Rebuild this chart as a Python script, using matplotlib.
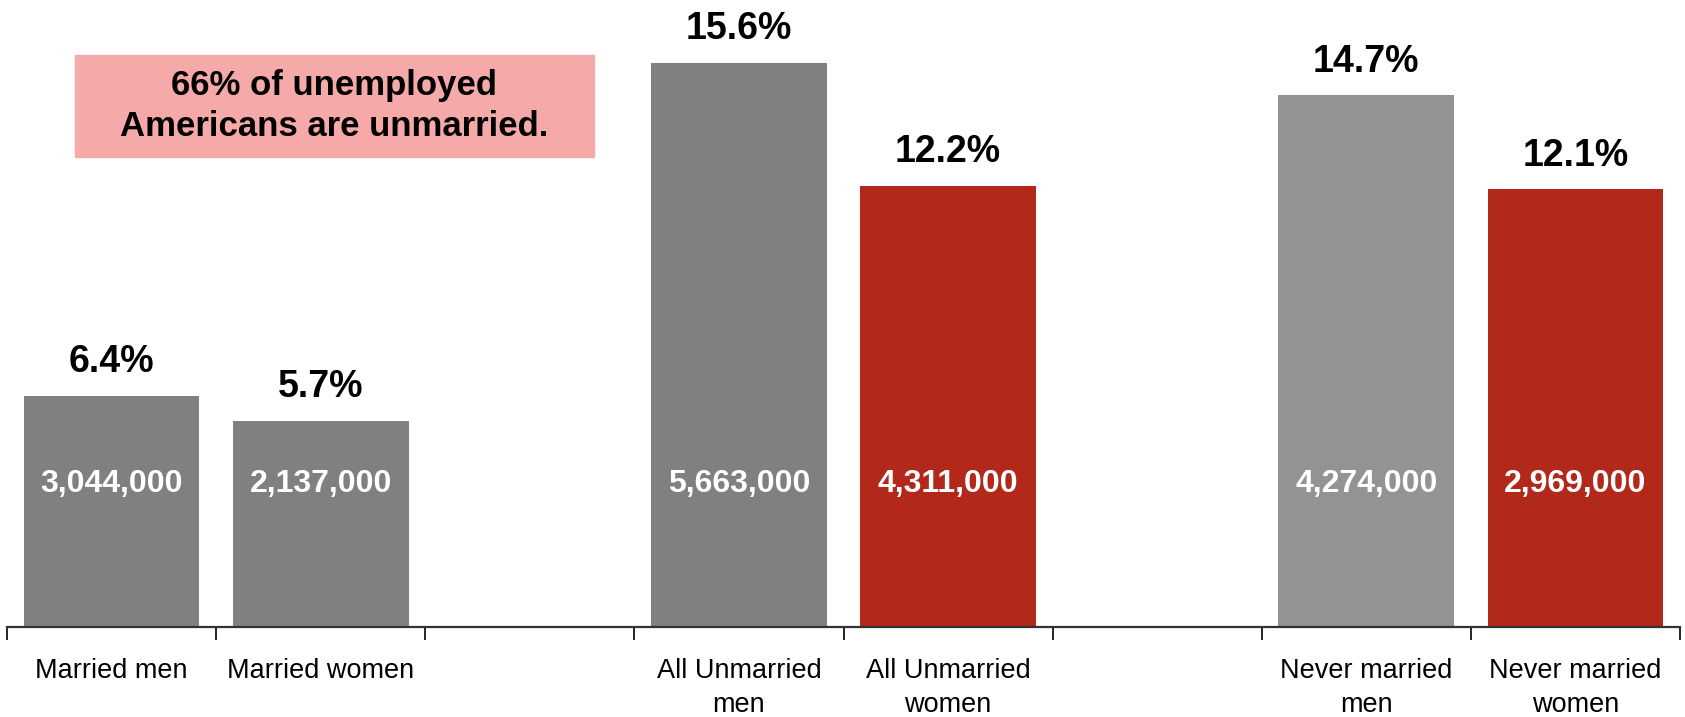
import matplotlib
matplotlib.use("Agg")
import matplotlib.pyplot as plt
from matplotlib.patches import Rectangle

plt.rcParams['font.family'] = ['Liberation Sans', 'DejaVu Sans']

# slots along the x axis, empty strings are the gaps between groups
labels = ["Married men", "Married women", "",
          "All Unmarried\nmen", "All Unmarried\nwomen", "",
          "Never married\nmen", "Never married\nwomen"]
rates = [6.4, 5.7, None, 15.6, 12.2, None, 14.7, 12.1]
counts = ["3,044,000", "2,137,000", None, "5,663,000", "4,311,000", None,
          "4,274,000", "2,969,000"]
note = "66% of unemployed\nAmericans are unmarried."

colors = ["#808080", "#808080", None, "#808080", "#B2281A", None,
          "#939393", "#B2281A"]

fig = plt.figure(figsize=(16.85, 7.17), dpi=100)
ax = fig.add_axes([7/1685, 90/717, 1673/1685, 627/717])

for i, (r, c, col) in enumerate(zip(rates, counts, colors)):
    if r is None:
        continue
    ax.bar(i + 0.5, r, width=0.84, color=col)
    ax.annotate(f"{r}%", (i + 0.5, r), xytext=(0, 17), textcoords="offset points",
                ha="center", va="baseline", fontsize=27, fontweight="bold")
    ax.text(i + 0.5, 3.95, c, ha="center", va="center", color="white",
            fontsize=23, fontweight="bold")

ax.set_xlim(0, len(labels))
ax.set_ylim(0, 17.34)
ax.set_xticks(range(len(labels) + 1))
ax.set_xticklabels([])
ax.set_xticks([i + 0.5 for i in range(len(labels))], minor=True)
ax.set_xticklabels(labels, minor=True, fontsize=19.5, linespacing=1.43)
ax.tick_params(axis="x", which="major", direction="out", length=9, width=1.2, color="black")
ax.tick_params(axis="x", which="minor", length=0, pad=22)
ax.set_yticks([])
for s in ["left", "right", "top"]:
    ax.spines[s].set_visible(False)
ax.spines["bottom"].set_linewidth(1.6)
ax.spines["bottom"].set_color("#333333")

fig.patches.append(Rectangle((75/1685, 1 - 157/717), 519/1685, 102/717,
                             transform=fig.transFigure, color="#F5A9A8", zorder=0))
fig.text(334/1685, 1 - 106/717, note, ha="center", va="center",
         fontsize=25, fontweight="bold", linespacing=1.3)

fig.savefig("out.png", dpi=100)
